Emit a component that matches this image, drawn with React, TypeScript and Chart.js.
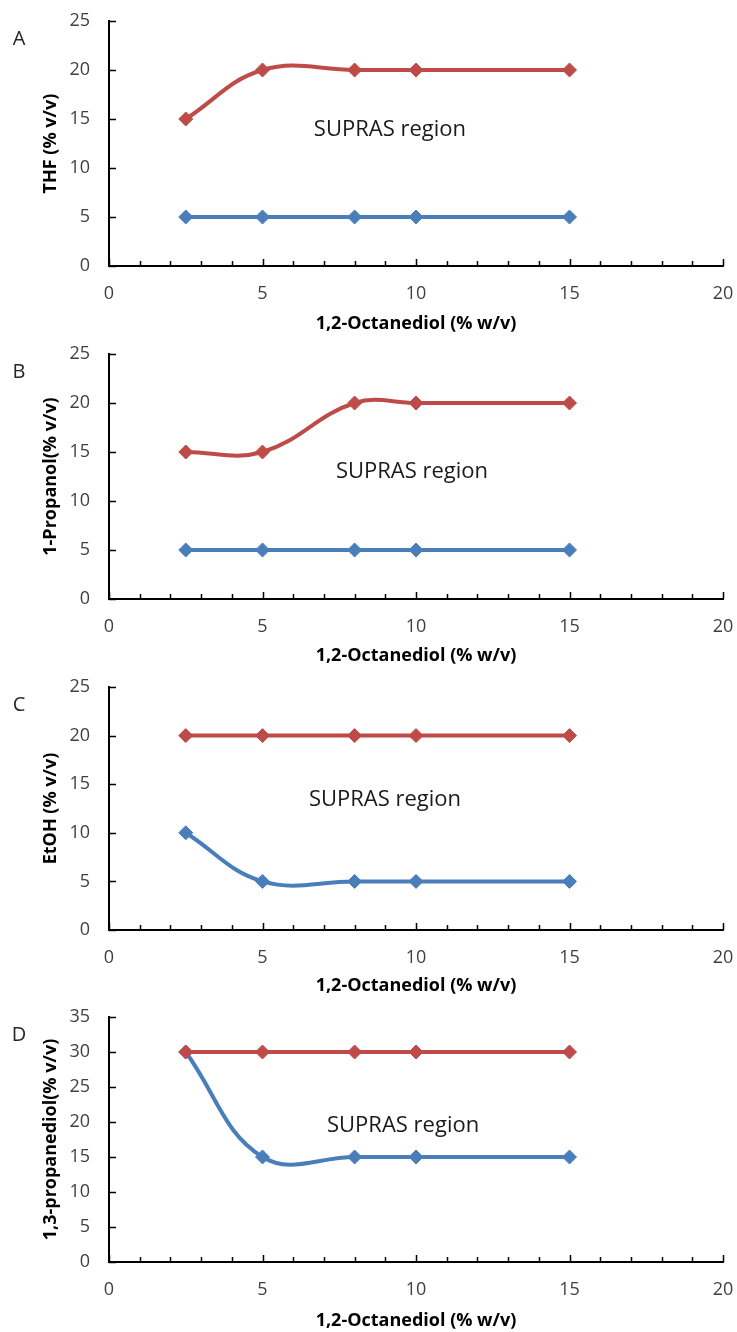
import React, { useEffect, useRef } from "react";
import { Chart, registerables } from "chart.js";

Chart.register(...registerables);

// ---- Data ----
const octanediol = [2.5, 5, 8, 10, 15];

const thfUpper = [15, 20, 20, 20, 20];
const thfLower = [5, 5, 5, 5, 5];

const propanolUpper = [15, 15, 20, 20, 20];
const propanolLower = [5, 5, 5, 5, 5];

const etohUpper = [20, 20, 20, 20, 20];
const etohLower = [10, 5, 5, 5, 5];

const propanediolUpper = [30, 30, 30, 30, 30];
const propanediolLower = [30, 15, 15, 15, 15];

const xTickValues = [0, 5, 10, 15, 20];
const yMaxA = 25;
const yMaxB = 25;
const yMaxC = 25;
const yMaxD = 35;

const xTitle = "1,2-Octanediol (% w/v)";
const regionLabel = "SUPRAS region";

const BLUE = "#4A7EBB";
const RED = "#BE4B48";
const FONT = "'Open Sans', 'Noto Sans', sans-serif";

type Panel = {
  letter: string;
  yTitle: string;
  upper: number[];
  lower: number[];
  yMax: number;
  top: number;
  height: number;
  padTop: number;
  plotBottom: number;
  textX: number;
  textY: number;
};

const panels: Panel[] = [
  { letter: "A", yTitle: "THF (% v/v)", upper: thfUpper, lower: thfLower, yMax: yMaxA, top: 0, height: 335, padTop: 21, plotBottom: 266, textX: 9.15, textY: 13.9 },
  { letter: "B", yTitle: "1-Propanol(% v/v)", upper: propanolUpper, lower: propanolLower, yMax: yMaxB, top: 335, height: 332, padTop: 19, plotBottom: 264, textX: 9.87, textY: 13.0 },
  { letter: "C", yTitle: "EtOH (% v/v)", upper: etohUpper, lower: etohLower, yMax: yMaxC, top: 667, height: 330, padTop: 20, plotBottom: 263, textX: 8.99, textY: 13.4 },
  { letter: "D", yTitle: "1,3-propanediol(% v/v)", upper: propanediolUpper, lower: propanediolLower, yMax: yMaxD, top: 997, height: 335, padTop: 20, plotBottom: 265, textX: 9.58, textY: 19.4 },
];

const decorPlugin = {
  id: "decor",
  afterDraw(chart: any, _args: any, opts: any) {
    const { ctx, scales } = chart;
    const x = scales.x;
    const y = scales.y;
    ctx.save();
    ctx.strokeStyle = "#000";
    ctx.lineWidth = 1.5;
    ctx.beginPath();
    for (let v = 0; v <= 20; v += 1) {
      const px = Math.round(x.getPixelForValue(v)) + 0.5;
      const len = v % 5 === 0 ? 7 : 5;
      ctx.moveTo(px, y.bottom);
      ctx.lineTo(px, y.bottom - len);
    }
    for (let v = 0; v <= opts.yMax; v += 5) {
      const py = Math.round(y.getPixelForValue(v)) + 0.5;
      ctx.moveTo(x.left, py);
      ctx.lineTo(x.left + 7, py);
    }
    ctx.stroke();

    ctx.fillStyle = "#1a1a1a";
    ctx.font = `22px ${FONT}`;
    ctx.textAlign = "center";
    ctx.textBaseline = "middle";
    ctx.fillText(opts.text, x.getPixelForValue(opts.textX), y.getPixelForValue(opts.textY));

    ctx.font = `20px ${FONT}`;
    ctx.fillStyle = "#262626";
    ctx.fillText(opts.letter, 19, chart.chartArea.top + 18);
    ctx.restore();
  },
};

function PanelChart({ p }: { p: Panel }) {
  const ref = useRef<HTMLCanvasElement | null>(null);
  useEffect(() => {
    if (!ref.current) return;
    const xScaleH = p.height - p.plotBottom;
    const mk = (vals: number[], color: string, order: number) => ({
      data: octanediol.map((xv, i) => ({ x: xv, y: vals[i] })),
      borderColor: color,
      backgroundColor: color,
      borderWidth: 4,
      pointStyle: "rectRot",
      pointRadius: 7,
      pointBorderWidth: 1,
      pointBorderColor: color,
      pointBackgroundColor: color,
      tension: 0.4,
      fill: false,
      order,
    });
    const chart = new Chart(ref.current, {
      type: "line",
      data: {
        datasets: [mk(p.upper, RED, 0), mk(p.lower, BLUE, 1)] as any,
      },
      options: {
        animation: false,
        responsive: false,
        maintainAspectRatio: false,
        layout: { autoPadding: false, padding: { top: p.padTop, right: 14, bottom: 0, left: 0 } },
        plugins: {
          legend: { display: false },
          tooltip: { enabled: false },
          decor: { yMax: p.yMax, text: regionLabel, textX: p.textX, textY: p.textY, letter: p.letter },
        } as any,
        scales: {
          x: {
            type: "linear",
            min: 0,
            max: 20,
            afterBuildTicks: (s: any) => {
              s.ticks = xTickValues.map((v) => ({ value: v }));
            },
            afterFit: (s: any) => {
              s.height = xScaleH;
              s.paddingLeft = 0;
              s.paddingRight = 0;
            },
            grid: { display: false, drawTicks: false },
            border: { display: true, color: "#000", width: 2 },
            ticks: {
              color: "#404040",
              font: { family: FONT, size: 18 },
              padding: 17,
              maxRotation: 0,
            },
            title: {
              display: true,
              text: xTitle,
              color: "#000",
              font: { family: FONT, size: 18, weight: "bold" },
              padding: { top: 0, bottom: 0 },
            },
          },
          y: {
            type: "linear",
            min: 0,
            max: p.yMax,
            ticks: {
              stepSize: 5,
              color: "#404040",
              font: { family: FONT, size: 18 },
              padding: 19,
            },
            afterFit: (s: any) => {
              s.width = 109;
              s.paddingTop = 0;
              s.paddingBottom = 0;
            },
            grid: { display: false, drawTicks: false },
            border: { display: true, color: "#000", width: 2 },
            title: {
              display: true,
              text: p.yTitle,
              color: "#000",
              font: { family: FONT, size: 18, weight: "bold" },
              padding: { top: 40, bottom: 0 },
            },
          },
        },
      },
      plugins: [decorPlugin as any],
    });
    return () => chart.destroy();
  }, [p]);
  return (
    <canvas
      ref={ref}
      width={737}
      height={p.height}
      style={{ position: "absolute", left: 0, top: p.top, width: 737, height: p.height }}
    />
  );
}

export default function App() {
  return (
    <div style={{ position: "absolute", left: 0, top: 0, width: 737, height: 1332, background: "#fff" }}>
      {panels.map((p) => (
        <PanelChart key={p.letter} p={p} />
      ))}
    </div>
  );
}
